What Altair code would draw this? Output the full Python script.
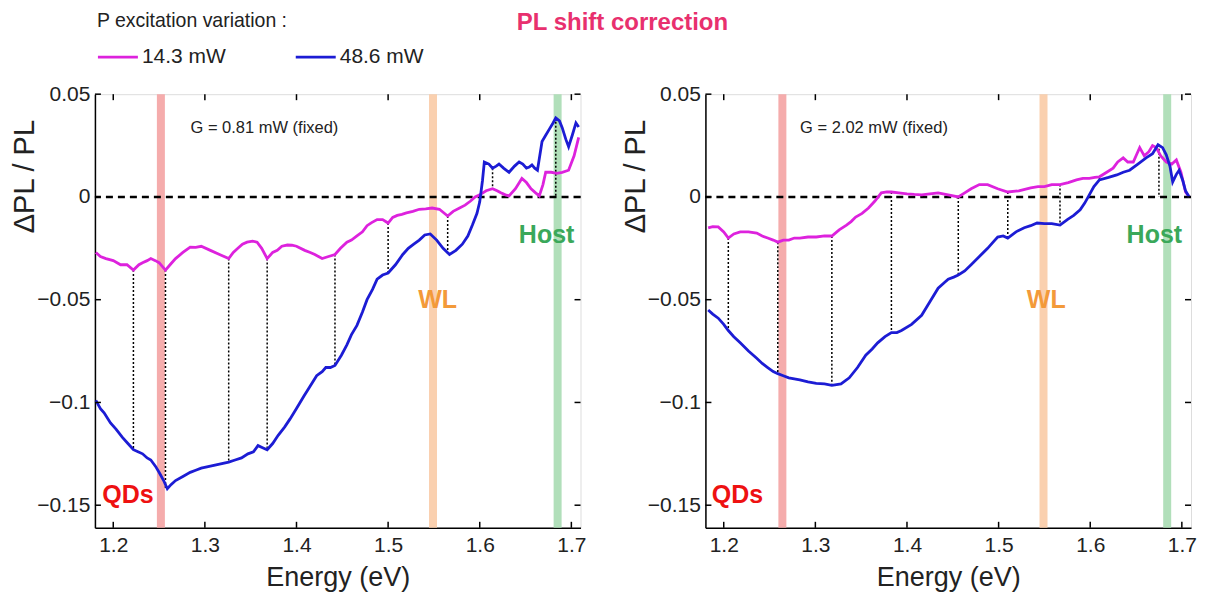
import altair as alt
import pandas as pd

# ---------------- data ----------------
# Left panel, G = 0.81 mW
L_mag_E = [1.181, 1.186, 1.192, 1.200, 1.208, 1.215, 1.222, 1.228, 1.232, 1.237, 1.241, 1.246, 1.250, 1.257,
           1.262, 1.268, 1.276, 1.284, 1.290, 1.296, 1.306, 1.316, 1.326, 1.331, 1.336, 1.341, 1.346, 1.352,
           1.357, 1.362, 1.368, 1.374, 1.379, 1.384, 1.390, 1.395, 1.400, 1.409, 1.415, 1.420, 1.428, 1.435,
           1.442, 1.448, 1.455, 1.460, 1.466, 1.472, 1.477, 1.482, 1.488, 1.494, 1.500, 1.505, 1.510, 1.515,
           1.520, 1.527, 1.534, 1.541, 1.548, 1.556, 1.565, 1.571, 1.578, 1.584, 1.590, 1.595, 1.600, 1.607,
           1.614, 1.619, 1.623, 1.628, 1.632, 1.639, 1.646, 1.651, 1.656, 1.661, 1.665, 1.669, 1.672, 1.678,
           1.684, 1.690, 1.697, 1.703, 1.708]
L_mag_v = [-0.027, -0.029, -0.030, -0.031, -0.033, -0.033, -0.0356, -0.033, -0.032, -0.031, -0.030, -0.031,
           -0.032, -0.0356, -0.033, -0.030, -0.027, -0.0244, -0.0245, -0.024, -0.026, -0.028, -0.030, -0.027,
           -0.025, -0.023, -0.022, -0.0215, -0.022, -0.025, -0.030, -0.027, -0.026, -0.024, -0.0234, -0.0235,
           -0.024, -0.026, -0.027, -0.028, -0.030, -0.029, -0.028, -0.025, -0.022, -0.021, -0.019, -0.017,
           -0.014, -0.0125, -0.011, -0.011, -0.0127, -0.010, -0.009, -0.0085, -0.0078, -0.007, -0.006, -0.0058,
           -0.0054, -0.006, -0.0093, -0.007, -0.0054, -0.004, -0.002, 0.000, 0.001, 0.003, 0.004, 0.003, 0.002,
           0.001, 0.0005, 0.004, 0.009, 0.007, 0.004, 0.002, 0.0005, 0.006, 0.012, 0.012, 0.0115, 0.012, 0.013,
           0.020, 0.029]
L_blue_E = [1.181, 1.186, 1.190, 1.197, 1.203, 1.210, 1.216, 1.222, 1.227, 1.232, 1.237, 1.241, 1.246, 1.250,
            1.255, 1.259, 1.263, 1.268, 1.276, 1.284, 1.290, 1.296, 1.306, 1.316, 1.326, 1.333, 1.340, 1.347,
            1.353, 1.358, 1.363, 1.368, 1.374, 1.380, 1.387, 1.393, 1.400, 1.408, 1.415, 1.422, 1.428, 1.432,
            1.437, 1.442, 1.449, 1.455, 1.460, 1.466, 1.472, 1.477, 1.483, 1.488, 1.494, 1.500, 1.508, 1.516,
            1.522, 1.528, 1.534, 1.540, 1.546, 1.553, 1.560, 1.567, 1.574, 1.581, 1.587, 1.592, 1.597, 1.600,
            1.603, 1.605, 1.610, 1.614, 1.618, 1.621, 1.626, 1.632, 1.638, 1.643, 1.647, 1.651, 1.654, 1.657,
            1.660, 1.663, 1.668, 1.672, 1.676, 1.680, 1.683, 1.687, 1.690, 1.694, 1.697, 1.701, 1.705, 1.708]
L_blue_v = [-0.099, -0.103, -0.105, -0.110, -0.113, -0.117, -0.120, -0.123, -0.124, -0.125, -0.127, -0.128,
            -0.131, -0.134, -0.138, -0.142, -0.140, -0.138, -0.136, -0.134, -0.133, -0.132, -0.131, -0.130,
            -0.129, -0.128, -0.127, -0.125, -0.124, -0.121, -0.122, -0.123, -0.120, -0.116, -0.112, -0.108,
            -0.103, -0.097, -0.092, -0.087, -0.085, -0.083, -0.083, -0.082, -0.077, -0.072, -0.067, -0.0625,
            -0.056, -0.050, -0.045, -0.040, -0.038, -0.037, -0.033, -0.028, -0.025, -0.023, -0.021, -0.0185,
            -0.018, -0.021, -0.025, -0.028, -0.026, -0.023, -0.019, -0.0137, -0.008, -0.0024, 0.008, 0.017,
            0.016, 0.014, 0.015, 0.016, 0.014, 0.012, 0.015, 0.017, 0.016, 0.014, 0.0145, 0.0156, 0.014, 0.013,
            0.027, 0.030, 0.033, 0.036, 0.0385, 0.037, 0.0337, 0.028, 0.0244, 0.030, 0.036, 0.034]
L_dot_E = [1.222, 1.257, 1.326, 1.368, 1.442, 1.500, 1.565, 1.614, 1.683]
L_dot_top = [-0.0356, -0.0356, -0.030, -0.030, -0.028, -0.0127, -0.0093, 0.014, 0.0385]
L_dot_bot = [-0.123, -0.142, -0.129, -0.123, -0.082, -0.037, -0.028, 0.004, 0.0]

# Right panel, G = 2.02 mW
R_mag_E = [1.183, 1.188, 1.194, 1.200, 1.205, 1.211, 1.218, 1.227, 1.236, 1.242, 1.248, 1.254, 1.259, 1.265,
           1.271, 1.277, 1.283, 1.292, 1.301, 1.310, 1.318, 1.326, 1.334, 1.339, 1.344, 1.351, 1.358, 1.365,
           1.372, 1.378, 1.383, 1.391, 1.400, 1.408, 1.416, 1.425, 1.434, 1.445, 1.456, 1.463, 1.470, 1.479,
           1.488, 1.499, 1.510, 1.522, 1.535, 1.543, 1.550, 1.558, 1.567, 1.576, 1.585, 1.592, 1.599, 1.605,
           1.610, 1.618, 1.625, 1.630, 1.636, 1.641, 1.647, 1.651, 1.654, 1.659, 1.664, 1.668, 1.672, 1.677,
           1.683, 1.689, 1.694, 1.699, 1.704, 1.708]
R_mag_v = [-0.0151, -0.0145, -0.0146, -0.017, -0.020, -0.018, -0.017, -0.017, -0.0176, -0.019, -0.020,
           -0.021, -0.022, -0.021, -0.021, -0.020, -0.020, -0.0195, -0.0195, -0.019, -0.019, -0.016, -0.0137,
           -0.012, -0.0098, -0.008, -0.0054, -0.002, 0.002, 0.0025, 0.0024, 0.002, 0.0015, 0.0012, 0.001,
           0.0015, 0.002, 0.001, 0.0, 0.002, 0.004, 0.006, 0.006, 0.004, 0.0024, 0.003, 0.0044, 0.005, 0.005,
           0.006, 0.006, 0.007, 0.0083, 0.009, 0.009, 0.0095, 0.0098, 0.012, 0.014, 0.017, 0.019, 0.017, 0.017,
           0.021, 0.024, 0.020, 0.022, 0.025, 0.024, 0.020, 0.017, 0.016, 0.018, 0.012, 0.0024, 0.0]
R_blue_E = [1.183, 1.188, 1.194, 1.200, 1.205, 1.211, 1.218, 1.227, 1.236, 1.242, 1.248, 1.254, 1.259, 1.265,
            1.271, 1.277, 1.283, 1.292, 1.301, 1.310, 1.318, 1.328, 1.337, 1.346, 1.355, 1.362, 1.368, 1.376,
            1.383, 1.389, 1.394, 1.405, 1.416, 1.425, 1.434, 1.440, 1.445, 1.451, 1.456, 1.463, 1.470, 1.479,
            1.488, 1.494, 1.499, 1.505, 1.510, 1.519, 1.528, 1.535, 1.542, 1.550, 1.558, 1.567, 1.575, 1.582,
            1.589, 1.594, 1.599, 1.604, 1.610, 1.620, 1.629, 1.636, 1.643, 1.652, 1.661, 1.668, 1.674, 1.679,
            1.683, 1.687, 1.690, 1.694, 1.697, 1.701, 1.704, 1.708]
R_blue_v = [-0.055, -0.057, -0.059, -0.062, -0.065, -0.068, -0.071, -0.075, -0.0785, -0.081, -0.083,
            -0.085, -0.086, -0.087, -0.088, -0.0885, -0.089, -0.090, -0.0907, -0.091, -0.0917, -0.091, -0.088,
            -0.083, -0.077, -0.074, -0.071, -0.068, -0.066, -0.066, -0.065, -0.062, -0.0576, -0.051, -0.0444,
            -0.042, -0.040, -0.039, -0.038, -0.036, -0.033, -0.029, -0.025, -0.022, -0.0195, -0.019, -0.020,
            -0.017, -0.015, -0.014, -0.0127, -0.013, -0.013, -0.0137, -0.011, -0.009, -0.0063, -0.003, 0.001,
            0.005, 0.0083, 0.0095, 0.0107, 0.012, 0.013, 0.016, 0.019, 0.021, 0.0254, 0.024, 0.0205, 0.015,
            0.0073, 0.011, 0.013, 0.008, 0.003, 0.0]
R_dot_E = [1.205, 1.259, 1.318, 1.383, 1.456, 1.510, 1.567, 1.610, 1.675]
R_dot_top = [-0.020, -0.022, -0.019, 0.0024, 0.0, 0.0024, 0.006, 0.0098, 0.0254]
R_dot_bot = [-0.065, -0.086, -0.0917, -0.066, -0.038, -0.020, -0.0137, 0.0083, 0.0]

series_names = ["14.3 mW", "48.6 mW"]
series_colors = ["#dd22dd", "#1c1cd4"]
band_names = ["QDs", "WL", "Host"]
band_colors = ["#f4a3a3", "#f9cba6", "#a9dcb2"]
band_text_colors = ["#ee1111", "#f39a3a", "#3aa85a"]
L_band_E = [1.252, 1.549, 1.685]
R_band_E = [1.264, 1.549, 1.684]
L_label_E = [1.216, 1.554, 1.673]
R_label_E = [1.215, 1.552, 1.670]
label_v = [-0.145, -0.050, -0.0185]
G_texts = ["G = 0.81 mW (fixed)", "G = 2.02 mW (fixed)"]
G_E = [1.365, 1.364]
G_v = [0.0337, 0.0337]
x_ticks = [1.2, 1.3, 1.4, 1.5, 1.6, 1.7]
y_ticks = [0.05, 0.0, -0.05, -0.1, -0.15]

FONT = "Liberation Sans"
W, H = 486, 434
XDOM = [1.18, 1.71]
YDOM = [-0.161, 0.05]


def panel(mag_E, mag_v, blue_E, blue_v, dot_E, dot_top, dot_bot, band_E, label_E, gtext, gE, gv, first):
    xs = alt.Scale(domain=XDOM, nice=False, zero=False)
    ys = alt.Scale(domain=YDOM, nice=False, zero=False)
    xaxis = alt.Axis(values=x_ticks, format=".1f", title="Energy (eV)", grid=False, tickSize=0,
                     labelPadding=7, labelFontSize=21, titleFontSize=27, titleFontWeight="normal",
                     labelFont=FONT, titleFont=FONT, domainColor="black", domainWidth=1.5,
                     labelColor="#222", titleColor="#222", titlePadding=9)
    yaxis = alt.Axis(values=y_ticks, format="~g", title="ΔPL / PL", grid=False, tickSize=0,
                     labelPadding=5, labelFontSize=21, titleFontSize=29, titleFontWeight="normal",
                     labelFont=FONT, titleFont=FONT, domainColor="black", domainWidth=1.5,
                     labelColor="#222", titleColor="#222", titleX=-55, titleY=82,
                     titleBaseline="bottom")

    bands = pd.DataFrame({"E": band_E, "name": band_names})
    band_layer = alt.Chart(bands).mark_rule(strokeWidth=8, opacity=0.9).encode(
        x=alt.X("E:Q", scale=xs, axis=xaxis),
        color=alt.Color("name:N", scale=alt.Scale(domain=band_names, range=band_colors), legend=None),
    )

    zero = alt.Chart(pd.DataFrame({"v": [0.0]})).mark_rule(
        color="black", strokeWidth=2.5, strokeDash=[7, 5]).encode(
        y=alt.Y("v:Q", scale=ys, axis=yaxis))

    dots = pd.DataFrame({"E": dot_E, "top": dot_top, "bot": dot_bot})
    dot_layer = alt.Chart(dots).mark_rule(color="black", strokeWidth=1.5, strokeDash=[2, 2]).encode(
        x=alt.X("E:Q", scale=xs), y=alt.Y("top:Q", scale=ys), y2="bot:Q")

    lines = pd.concat([
        pd.DataFrame({"E": mag_E, "v": mag_v, "s": series_names[0], "o": range(len(mag_E))}),
        pd.DataFrame({"E": blue_E, "v": blue_v, "s": series_names[1], "o": range(len(blue_E))}),
    ])
    line_layer = alt.Chart(lines).mark_line(strokeWidth=2.8).encode(
        x=alt.X("E:Q", scale=xs), y=alt.Y("v:Q", scale=ys),
        color=alt.Color("s:N", scale=alt.Scale(domain=series_names, range=series_colors), legend=None),
        order="o:Q", detail="s:N")

    labels = pd.DataFrame({"E": label_E, "v": label_v, "t": band_names})
    label_layer = alt.Chart(labels).mark_text(font=FONT, fontSize=25, fontWeight="bold").encode(
        x=alt.X("E:Q", scale=xs), y=alt.Y("v:Q", scale=ys), text="t:N",
        color=alt.Color("t:N", scale=alt.Scale(domain=band_names, range=band_text_colors), legend=None))

    g_layer = alt.Chart(pd.DataFrame({"E": [gE], "v": [gv], "t": [gtext]})).mark_text(
        font=FONT, fontSize=16.5, color="#222").encode(
        x=alt.X("E:Q", scale=xs), y=alt.Y("v:Q", scale=ys), text="t:N")

    # inward ticks (mirrored on all four sides, like the original)
    xt = pd.DataFrame({"E": x_ticks})
    yt = pd.DataFrame({"v": y_ticks})
    tk = dict(color="black", strokeWidth=1.5)
    ticks = [
        alt.Chart(xt).mark_rule(**tk).encode(x=alt.X("E:Q", scale=xs), y=alt.value(H), y2=alt.value(H - 6)),
        alt.Chart(xt).mark_rule(**tk).encode(x=alt.X("E:Q", scale=xs), y=alt.value(0), y2=alt.value(6)),
        alt.Chart(yt).mark_rule(**tk).encode(y=alt.Y("v:Q", scale=ys), x=alt.value(0), x2=alt.value(6)),
        alt.Chart(yt).mark_rule(**tk).encode(y=alt.Y("v:Q", scale=ys), x=alt.value(W - 6), x2=alt.value(W)),
    ]

    layers = [band_layer, zero, dot_layer, line_layer, label_layer, g_layer] + ticks

    if first:
        hdr = alt.Chart(pd.DataFrame({"t": ["P excitation variation :"]})).mark_text(
            font=FONT, fontSize=19.5, align="left", baseline="middle", color="#222").encode(
            text="t:N", x=alt.value(2), y=alt.value(-73))
        ttl = alt.Chart(pd.DataFrame({"t": ["PL shift correction"]})).mark_text(
            font=FONT, fontSize=24, fontWeight="bold", align="center", baseline="middle",
            color="#e8306e").encode(text="t:N", x=alt.value(528), y=alt.value(-71))
        leg = pd.DataFrame({"s": series_names, "x0": [3, 201], "x1": [43, 241], "tx": [47, 245]})
        leg_lines = alt.Chart(leg).mark_rule(strokeWidth=2.8).encode(
            x=alt.X("x0:Q", scale=None), x2="x1:Q", y=alt.value(-37),
            color=alt.Color("s:N", scale=alt.Scale(domain=series_names, range=series_colors), legend=None))
        leg_text = alt.Chart(leg).mark_text(font=FONT, fontSize=21, align="left", baseline="middle",
                                            color="#222").encode(
            x=alt.X("tx:Q", scale=None), y=alt.value(-37), text="s:N")
        layers += [hdr, ttl, leg_lines, leg_text]

    return alt.layer(*layers).resolve_scale(color="independent").properties(width=W, height=H)


left = panel(L_mag_E, L_mag_v, L_blue_E, L_blue_v, L_dot_E, L_dot_top, L_dot_bot,
             L_band_E, L_label_E, G_texts[0], G_E[0], G_v[0], True)
right = panel(R_mag_E, R_mag_v, R_blue_E, R_blue_v, R_dot_E, R_dot_top, R_dot_bot,
              R_band_E, R_label_E, G_texts[1], G_E[1], G_v[1], False)

chart = alt.hconcat(left, right, spacing=125, bounds="flush").properties(
    padding={"left": 2, "top": 2, "right": 5, "bottom": 5}
).configure_view(stroke="black", strokeWidth=1.5).configure(background="white")

chart.save("out.html", embed_options={"renderer": "svg", "actions": False})
